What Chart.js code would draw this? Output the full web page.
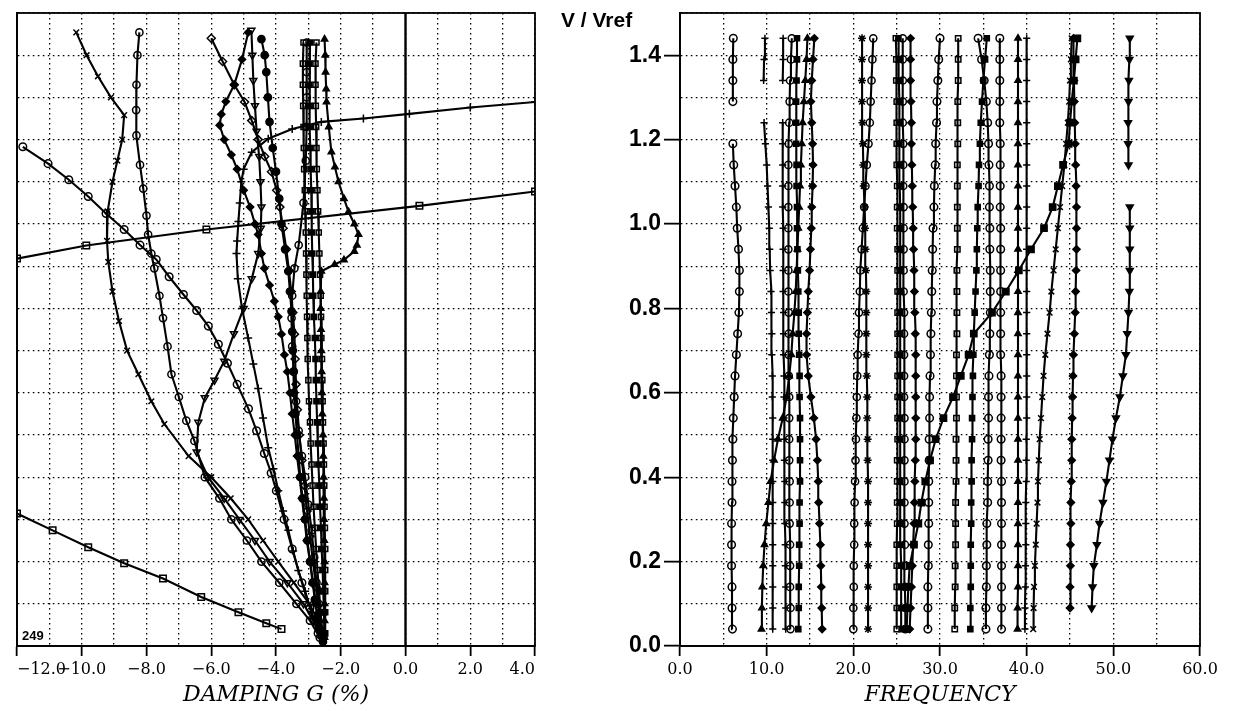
<!DOCTYPE html>
<html>
<head>
<meta charset="utf-8">
<script src="https://cdn.jsdelivr.net/npm/chart.js@4.4.0/dist/chart.umd.min.js"></script>
<style>
  body { margin: 0; background: #fff; width: 1238px; height: 711px; position: relative; overflow: hidden; }
  #damping { position: absolute; left: 0; top: 0; }
  #frequency { position: absolute; left: 560px; top: 0; }
</style>
</head>
<body>
<canvas id="damping" width="560" height="711"></canvas>
<canvas id="frequency" width="678" height="711"></canvas>
<script>
'use strict'

// damping branches, pairs of [g %, V/Vref]
const dampCross = [[-10.17,1.454],[-9.85,1.40],[-9.5,1.35],[-9.1,1.30],[-8.69,1.258],[-8.75,1.20],[-8.9,1.15],[-9.05,1.10],[-9.2,1.03],[-9.22,0.96],[-9.18,0.91],[-9.05,0.84],[-8.85,0.77],[-8.6,0.70],[-8.25,0.644],[-7.85,0.58],[-7.45,0.526],[-6.7,0.45],[-6.0,0.40],[-5.4,0.35],[-4.86,0.30],[-4.4,0.25],[-3.93,0.20],[-3.45,0.15],[-2.97,0.10],[-2.7,0.06],[-2.55,0.02]];
const dampRing = [[-8.22,1.454],[-8.28,1.40],[-8.31,1.33],[-8.32,1.27],[-8.31,1.21],[-8.2,1.14],[-8.1,1.084],[-8.0,1.02],[-7.95,0.975],[-7.85,0.93],[-7.76,0.895],[-7.6,0.83],[-7.49,0.777],[-7.35,0.71],[-7.23,0.644],[-7.0,0.59],[-6.77,0.534],[-6.52,0.486],[-6.2,0.40],[-5.75,0.35],[-5.38,0.30],[-4.9,0.25],[-4.45,0.20],[-3.9,0.15],[-3.37,0.10],[-2.95,0.06],[-2.65,0.02]];
const dampVee = [[-2.6,0.02],[-2.85,0.06],[-3.15,0.10],[-3.65,0.15],[-4.2,0.20],[-4.65,0.25],[-5.13,0.30],[-5.6,0.35],[-6.1,0.40],[-6.45,0.46],[-6.4,0.53],[-6.2,0.588],[-5.9,0.63],[-5.6,0.675],[-5.3,0.74],[-5.0,0.80],[-4.75,0.87],[-4.55,0.93],[-4.47,0.99],[-4.45,1.04],[-4.48,1.10],[-4.52,1.16],[-4.6,1.22],[-4.65,1.28],[-4.7,1.34],[-4.73,1.40],[-4.76,1.459]];
const dampPlus = [[4.0,1.289],[2.0,1.276],[0.12,1.261],[-1.3,1.25],[-2.6,1.242],[-3.5,1.225],[-4.24,1.202],[-4.75,1.17],[-5.0,1.13],[-5.07,1.10],[-5.12,1.05],[-5.16,1.006],[-5.2,0.96],[-5.22,0.93],[-5.18,0.87],[-5.05,0.80],[-4.86,0.73],[-4.7,0.668],[-4.55,0.61],[-4.4,0.54],[-4.24,0.47],[-4.08,0.42],[-3.93,0.368],[-3.78,0.32],[-3.62,0.274],[-3.47,0.225],[-3.31,0.179],[-3.1,0.13],[-2.9,0.078],[-2.6,0.02]];
const dampLong = [[-11.82,1.183],[-11.04,1.143],[-10.4,1.105],[-9.8,1.065],[-9.25,1.025],[-8.69,0.987],[-8.2,0.95],[-7.7,0.916],[-7.3,0.875],[-6.86,0.833],[-6.45,0.795],[-6.09,0.758],[-5.78,0.715],[-5.5,0.67],[-5.2,0.62],[-4.85,0.562],[-4.6,0.51],[-4.36,0.456],[-4.15,0.41],[-3.99,0.368],[-3.75,0.30],[-3.5,0.23],[-3.2,0.15],[-2.95,0.09],[-2.7,0.03]];
const dampFlatHigh = [[-12.0,0.918],[-9.86,0.949],[-6.15,0.987],[0.43,1.043],[4.0,1.077]];
const dampFlatLow = [[-12.0,0.314],[-10.9,0.274],[-9.8,0.234],[-8.69,0.196],[-7.49,0.16],[-6.31,0.116],[-5.16,0.08],[-4.3,0.054],[-3.83,0.04]];
const dampDiamond = [[-6.0,1.44],[-5.65,1.385],[-5.29,1.33],[-4.97,1.289],[-4.75,1.245],[-4.55,1.20],[-4.35,1.16],[-4.14,1.124],[-3.98,1.08],[-3.88,1.04],[-3.78,0.99],[-3.68,0.94],[-3.6,0.89],[-3.53,0.84],[-3.48,0.79],[-3.43,0.739],[-3.41,0.68],[-3.38,0.62],[-3.34,0.56],[-3.28,0.50],[-3.2,0.44],[-3.12,0.38],[-3.04,0.32],[-2.95,0.26],[-2.86,0.20],[-2.76,0.14],[-2.66,0.08],[-2.56,0.02]];
const dampLoop = [[-4.86,1.454],[-5.05,1.39],[-5.29,1.33],[-5.55,1.29],[-5.69,1.26],[-5.74,1.234],[-5.6,1.20],[-5.38,1.164],[-5.2,1.13],[-5.0,1.08],[-4.8,1.04],[-4.65,1.0],[-4.55,0.975],[-4.45,0.93],[-4.36,0.895],[-4.2,0.855],[-4.05,0.817],[-3.93,0.78],[-3.83,0.739],[-3.74,0.69],[-3.65,0.65],[-3.57,0.60],[-3.5,0.55],[-3.42,0.50],[-3.35,0.45],[-3.27,0.40],[-3.2,0.35],[-3.12,0.30],[-3.05,0.25],[-2.95,0.20],[-2.85,0.15],[-2.77,0.10],[-2.7,0.06],[-2.6,0.02]];
const dampDot = [[-4.45,1.438],[-4.35,1.40],[-4.3,1.36],[-4.25,1.30],[-4.2,1.242],[-4.1,1.18],[-4.0,1.124],[-3.9,1.06],[-3.83,1.0],[-3.72,0.94],[-3.62,0.888],[-3.57,0.84],[-3.52,0.793],[-3.5,0.745],[-3.48,0.70],[-3.46,0.65],[-3.45,0.60],[-3.4,0.55],[-3.35,0.50],[-3.3,0.45],[-3.25,0.40],[-3.18,0.35],[-3.1,0.30],[-3.03,0.25],[-2.95,0.20],[-2.87,0.15],[-2.8,0.11],[-2.72,0.07],[-2.65,0.04],[-2.55,0.01]];
const dampBump = [[-2.5,1.438],[-2.48,1.40],[-2.47,1.36],[-2.45,1.32],[-2.44,1.289],[-2.37,1.23],[-2.29,1.171],[-2.18,1.135],[-2.07,1.10],[-1.9,1.06],[-1.76,1.029],[-1.58,1.0],[-1.45,0.975],[-1.5,0.95],[-1.58,0.935],[-1.9,0.915],[-2.19,0.904],[-2.6,0.888],[-2.62,0.84],[-2.62,0.80],[-2.61,0.75],[-2.6,0.70],[-2.59,0.65],[-2.58,0.60],[-2.57,0.55],[-2.55,0.50],[-2.54,0.45],[-2.53,0.40],[-2.52,0.35],[-2.52,0.30],[-2.51,0.25],[-2.5,0.20],[-2.5,0.15],[-2.5,0.10],[-2.5,0.06],[-2.5,0.02]];
const dampBoxA = [[-3.15,1.43],[-3.17,1.38],[-3.17,1.33],[-3.16,1.28],[-3.15,1.23],[-3.14,1.18],[-3.13,1.13],[-3.11,1.08],[-3.1,1.03],[-3.08,0.98],[-3.07,0.93],[-3.06,0.88],[-3.05,0.83],[-3.04,0.78],[-3.03,0.73],[-3.02,0.68],[-3.0,0.63],[-2.98,0.58],[-2.95,0.53],[-2.93,0.48],[-2.9,0.43],[-2.87,0.38],[-2.84,0.33],[-2.8,0.28],[-2.76,0.23],[-2.72,0.18],[-2.67,0.13],[-2.62,0.08],[-2.57,0.03]];
const dampBoxB = [[-2.95,1.43],[-2.97,1.38],[-2.97,1.33],[-2.96,1.28],[-2.95,1.23],[-2.94,1.18],[-2.93,1.13],[-2.91,1.08],[-2.9,1.03],[-2.89,0.98],[-2.88,0.93],[-2.86,0.88],[-2.85,0.83],[-2.83,0.78],[-2.8,0.73],[-2.78,0.68],[-2.77,0.63],[-2.75,0.58],[-2.73,0.53],[-2.71,0.48],[-2.69,0.43],[-2.66,0.38],[-2.64,0.33],[-2.61,0.28],[-2.59,0.23],[-2.56,0.18],[-2.54,0.13],[-2.52,0.08],[-2.5,0.03]];
const dampBoxC = [[-2.75,1.43],[-2.78,1.38],[-2.78,1.33],[-2.77,1.28],[-2.76,1.23],[-2.75,1.18],[-2.74,1.13],[-2.72,1.08],[-2.7,1.03],[-2.68,0.98],[-2.66,0.93],[-2.64,0.88],[-2.62,0.83],[-2.61,0.78],[-2.6,0.73],[-2.58,0.68],[-2.57,0.63],[-2.56,0.58],[-2.55,0.53],[-2.53,0.48],[-2.52,0.43],[-2.51,0.38],[-2.5,0.33],[-2.49,0.28],[-2.48,0.23],[-2.48,0.18],[-2.48,0.13],[-2.48,0.08],[-2.48,0.03]];
const dampBend = [[-3.05,1.43],[-3.05,1.36],[-3.05,1.30],[-3.06,1.23],[-3.08,1.15],[-3.15,1.05],[-3.3,0.95],[-3.43,0.895],[-3.5,0.83],[-3.52,0.777],[-3.5,0.71],[-3.45,0.65],[-3.38,0.58],[-3.3,0.51],[-3.2,0.45],[-3.1,0.40],[-3.0,0.335],[-2.9,0.274],[-2.82,0.21],[-2.75,0.15],[-2.68,0.10],[-2.6,0.05],[-2.55,0.02]];

// V/Vref steps of the frequency branches
const speeds = [0.04,0.09,0.14,0.19,0.24,0.29,0.34,0.39,0.44,0.49,0.54,0.59,0.64,0.69,0.74,0.79,0.84,0.89,0.94,0.99,1.04,1.09,1.14,1.19,1.24,1.29,1.34,1.39,1.44];

// frequency branches, one value per speed (null = no point)
const freqA = [6.05,6.0,6.0,5.95,5.95,5.95,6.0,6.0,6.05,6.1,6.15,6.25,6.35,6.5,6.65,6.8,6.85,6.85,6.75,6.6,6.5,6.35,6.2,6.1,null,6.1,6.1,6.1,6.15];
const freqB = [10.7,10.7,10.7,10.7,10.7,10.7,10.7,10.7,10.7,10.7,10.7,10.65,10.65,10.6,10.6,10.55,10.5,10.4,10.35,10.3,10.2,10.1,10.0,9.85,9.7,null,9.65,9.7,9.8];
const freqC = [9.4,9.45,9.5,9.6,9.75,9.95,10.2,10.45,10.85,11.3,11.85,12.3,12.6,12.85,13.0,13.2,13.35,13.45,13.55,13.65,13.75,13.85,13.95,14.05,14.15,14.3,14.45,14.6,14.7];
const freqD = [16.4,16.35,16.3,16.25,16.2,16.1,16.0,15.95,15.85,15.7,15.45,15.1,14.8,14.6,14.6,14.7,14.8,14.95,15.05,15.15,15.2,15.3,15.35,15.3,15.2,15.1,15.2,15.35,15.5];
const freqE = [12.2,12.2,12.2,12.15,12.15,12.1,12.1,12.1,12.05,12.05,12.0,12.0,12.0,11.95,11.95,11.95,11.9,11.9,11.9,11.9,11.85,11.85,11.85,11.85,11.85,null,11.85,11.9,11.9];
const freqF = [12.75,12.75,12.7,12.7,12.7,12.65,12.65,12.65,12.6,12.6,12.6,12.6,12.55,12.55,12.55,12.55,12.5,12.5,12.5,12.5,12.5,12.5,12.5,12.55,12.6,12.65,12.7,12.8,12.9];
const freqG = [13.65,13.7,13.7,13.75,13.75,13.8,13.8,13.85,13.85,13.85,13.85,13.8,13.8,13.75,13.7,13.7,13.65,13.6,13.55,13.5,13.5,13.45,13.45,13.4,13.4,13.4,13.45,13.5,13.5];
const freqH = [20.0,20.0,20.05,20.05,20.1,20.1,20.15,20.2,20.25,20.3,20.35,20.4,20.45,20.5,20.6,20.65,20.75,20.8,20.95,21.1,21.25,21.4,21.55,21.75,21.9,22.0,22.1,22.2,22.3];
const freqI = [21.7,21.7,21.7,21.7,21.7,21.7,21.7,21.7,21.65,21.65,21.6,21.6,21.55,21.5,21.5,21.5,21.5,21.45,21.4,21.35,21.3,21.2,21.15,21.1,21.05,21.0,21.0,21.0,21.0];
const freqJ = [25.0,25.0,25.0,25.0,25.0,25.05,25.05,25.05,25.05,25.1,25.1,25.1,25.1,25.1,25.1,25.1,25.1,25.1,25.1,25.05,25.05,25.05,25.0,25.0,25.0,25.0,24.95,24.95,24.9];
const freqK = [25.6,25.55,25.5,25.5,25.45,25.45,25.45,25.4,25.4,25.4,25.4,25.4,25.4,25.4,25.4,25.4,25.4,25.4,25.4,25.4,25.4,25.35,25.35,25.3,25.3,25.3,25.25,25.25,25.2];
const freqL = [26.0,26.0,25.95,25.95,25.95,25.9,25.9,25.9,25.9,25.9,25.9,25.85,25.85,25.85,25.85,25.85,25.8,25.8,25.8,25.8,25.8,25.75,25.75,25.75,25.7,25.7,25.7,25.7,25.7];
const freqM = [26.5,26.6,26.7,26.8,26.9,27.0,27.05,27.1,27.15,27.2,27.2,27.2,27.2,27.2,27.15,27.1,27.05,27.0,26.95,26.9,26.85,26.8,26.75,26.7,26.7,26.65,26.6,26.6,26.6];
const freqN = [28.6,28.6,28.6,28.65,28.65,28.7,28.7,28.7,28.75,28.75,28.8,28.8,28.85,28.9,28.95,29.0,29.05,29.1,29.15,29.2,29.3,29.35,29.45,29.5,29.6,29.65,29.75,29.85,30.0];
const freqO = [31.7,31.7,31.75,31.75,31.8,31.8,31.8,31.85,31.85,31.85,31.9,31.9,31.9,31.9,31.95,31.95,31.95,31.95,32.0,32.0,32.0,32.0,32.0,32.05,32.05,32.05,32.1,32.1,32.1];
const freqP = [33.5,33.5,33.55,33.55,33.55,33.6,33.6,33.65,33.65,33.7,33.7,33.75,33.8,33.85,33.9,34.0,34.1,34.2,34.25,34.3,34.35,34.45,34.5,34.6,34.7,34.85,35.0,35.2,35.4];
const freqQ = [35.3,35.3,35.35,35.35,35.4,35.4,35.5,35.5,35.55,35.55,35.6,35.6,35.65,35.7,35.75,35.8,35.8,35.8,35.75,35.75,35.7,35.7,35.65,35.6,35.5,35.35,35.1,34.8,34.4];
const freqR = [37.1,37.1,37.1,37.1,37.1,37.1,37.1,37.1,37.05,37.05,37.05,37.05,37.05,37.0,37.0,37.0,37.0,37.0,37.0,37.0,36.95,36.95,36.95,36.95,36.9,36.9,36.9,36.9,36.9];
const freqS = [38.95,38.95,39.0,39.0,39.0,39.0,39.0,39.0,39.0,39.0,39.0,39.0,39.0,39.0,39.0,39.0,39.0,39.0,39.0,39.0,39.0,39.0,39.0,39.0,39.0,39.0,39.0,39.0,39.0];
const freqT = [39.8,39.8,39.85,39.85,39.9,39.9,39.9,39.95,39.95,39.95,40.0,40.0,40.0,40.0,40.0,40.0,40.0,40.0,40.0,40.0,40.0,40.0,40.0,40.0,40.0,40.0,40.0,40.0,40.0];
const freqU = [40.75,40.8,40.85,40.95,41.05,41.15,41.25,41.3,41.4,41.5,41.65,41.8,41.95,42.15,42.4,42.65,42.85,43.1,43.35,43.6,43.85,44.1,44.35,44.55,44.75,44.9,45.0,45.1,45.2];
const freqV = [26.15,26.25,26.35,26.5,27.0,27.5,27.85,28.3,28.85,29.5,30.4,31.5,32.4,33.3,33.9,36.0,37.6,39.1,40.5,42.0,43.0,43.6,44.2,44.85,45.0,45.2,45.45,45.65,45.85];
const freqW = [null,45.0,45.0,45.05,45.05,45.1,45.1,45.15,45.2,45.2,45.25,45.3,45.35,45.4,45.5,45.6,45.65,45.7,45.75,45.75,45.75,45.7,45.65,45.6,45.55,45.5,45.45,45.4,45.4];
const freqX = [null,47.5,47.6,47.75,48.1,48.4,48.8,49.2,49.55,49.9,50.3,50.75,51.1,51.45,51.6,51.75,51.85,51.9,51.9,51.9,51.9,null,51.75,51.7,51.7,51.75,51.8,51.85,51.9];

const CLEAR = 'rgba(0,0,0,0)';
const MARKS = {
  o: {pointStyle: 'circle', pointBackgroundColor: CLEAR},
  dot: {pointStyle: 'circle', pointBackgroundColor: '#000'},
  sq: {pointStyle: 'rect', pointBackgroundColor: CLEAR},
  blk: {pointStyle: 'rect', pointBackgroundColor: '#000'},
  dia: {pointStyle: 'rectRot', pointBackgroundColor: CLEAR},
  gem: {pointStyle: 'rectRot', pointBackgroundColor: '#000'},
  up: {pointStyle: 'triangle', pointBackgroundColor: '#000'},
  dn: {pointStyle: 'triangle', pointRotation: 180, pointBackgroundColor: CLEAR},
  dnFill: {pointStyle: 'triangle', pointRotation: 180, pointBackgroundColor: '#000'},
  plus: {pointStyle: 'cross'},
  x: {pointStyle: 'crossRot'},
  star: {pointStyle: 'star'}
};

function line(points, mark, size) {
  return Object.assign({
    data: points.map(p => ({x: p[0], y: p[1]})),
    borderColor: '#000',
    borderWidth: 2.1,
    pointBorderColor: '#000',
    pointBorderWidth: 1.5,
    pointRadius: size || 3.6,
    tension: 0
  }, MARKS[mark]);
}

function branch(freqs, mark, size) {
  return line(speeds.map((v, i) => [freqs[i], v]), mark, size);
}

const tickFont = {family: 'DejaVu Serif', size: 16};
const titleFont = {family: 'DejaVu Serif', size: 22, style: 'italic'};
const dots = [1.6, 3.4];

function squeeze(h) {
  return s => { s.height = h; s.paddingLeft = 0; s.paddingRight = 0; };
}
function narrow(w) {
  return s => { s.width = w; s.paddingTop = 0; s.paddingBottom = 0; };
}

const frame = {
  id: 'frame',
  afterDraw(chart) {
    const a = chart.chartArea, c = chart.ctx;
    c.save();
    c.strokeStyle = '#000';
    c.lineWidth = 1.8;
    c.strokeRect(a.left, a.top, a.right - a.left, a.bottom - a.top);
    c.restore();
  }
};

const zeroLine = {
  id: 'zeroLine',
  beforeDatasetsDraw(chart) {
    const a = chart.chartArea, c = chart.ctx;
    const x = chart.scales.x.getPixelForValue(0);
    c.save();
    c.strokeStyle = '#000';
    c.lineWidth = 2.4;
    c.beginPath();
    c.moveTo(x, a.top);
    c.lineTo(x, a.bottom);
    c.stroke();
    c.restore();
  }
};

const runLabel = {
  id: 'runLabel',
  afterDraw(chart) {
    const c = chart.ctx;
    c.save();
    c.fillStyle = '#000';
    c.font = 'bold 13px "Liberation Sans"';
    c.textBaseline = 'alphabetic';
    c.fillText('249', chart.chartArea.left + 5, chart.chartArea.bottom - 6);
    c.restore();
  }
};

const speedLabel = {
  id: 'speedLabel',
  afterDraw(chart) {
    const c = chart.ctx;
    c.save();
    c.fillStyle = '#000';
    c.font = 'bold 21px "Liberation Sans"';
    c.textBaseline = 'alphabetic';
    c.fillText('V / Vref', 1, 27);
    c.restore();
  }
};

new Chart(document.getElementById('damping'), {
  type: 'line',
  data: {
    datasets: [
      line(dampCross, 'x', 4),
      line(dampRing, 'o'),
      line(dampVee, 'dn', 4),
      line(dampPlus, 'plus', 4),
      line(dampLong, 'o', 3.8),
      line(dampFlatHigh, 'sq', 4.6),
      line(dampFlatLow, 'sq', 4.6),
      line(dampDiamond, 'dia', 4),
      line(dampLoop, 'gem'),
      line(dampDot, 'dot'),
      line(dampBump, 'up'),
      line(dampBoxA, 'sq'),
      line(dampBoxB, 'blk'),
      line(dampBoxC, 'sq'),
      line(dampBend, 'o')
    ]
  },
  options: {
    responsive: false,
    animation: false,
    events: [],
    layout: {padding: {left: 17, right: 25, top: 13, bottom: 0}},
    plugins: {legend: {display: false}, tooltip: {enabled: false}},
    scales: {
      x: {
        type: 'linear', min: -12, max: 4,
        afterFit: squeeze(65),
        ticks: {
          stepSize: 1, autoSkip: false, maxRotation: 0, align: 'inner',
          color: '#000', font: tickFont, padding: 4,
          callback: v => Math.round(v) % 2 === 0 ? (v < 0 ? '\u2212' + Math.abs(v).toFixed(1) : v.toFixed(1)) : ''
        },
        grid: {
          color: '#000', lineWidth: 1.3, tickLength: 10, tickWidth: 1.8,
          tickColor: ctx => ctx.tick && Math.round(ctx.tick.value) % 2 ? CLEAR : '#000'
        },
        border: {display: true, color: '#000', width: 1.8, dash: dots},
        title: {display: true, text: 'DAMPING G (%)', color: '#000', font: titleFont, padding: {top: 0, bottom: 3}}
      },
      y: {
        type: 'linear', min: 0, max: 1.5,
        afterFit: narrow(0),
        ticks: {stepSize: 0.1, display: false},
        grid: {color: '#000', lineWidth: 1.3, drawTicks: false},
        border: {display: true, color: '#000', width: 1.8, dash: dots}
      }
    }
  },
  plugins: [zeroLine, frame, runLabel]
});

new Chart(document.getElementById('frequency'), {
  type: 'line',
  data: {
    datasets: [
      branch(freqA, 'o', 3.8),
      branch(freqB, 'plus'),
      branch(freqC, 'up'),
      branch(freqD, 'gem'),
      branch(freqE, 'plus'),
      branch(freqF, 'o'),
      branch(freqG, 'blk'),
      branch(freqH, 'o'),
      branch(freqI, 'star', 4),
      branch(freqJ, 'sq'),
      branch(freqK, 'blk'),
      branch(freqL, 'o'),
      branch(freqM, 'gem'),
      branch(freqN, 'o', 3.8),
      branch(freqO, 'sq', 3.8),
      branch(freqP, 'blk'),
      branch(freqQ, 'o', 3.8),
      branch(freqR, 'o', 3.8),
      branch(freqS, 'up'),
      branch(freqT, 'plus'),
      branch(freqU, 'x', 4),
      branch(freqV, 'blk', 4.4),
      branch(freqW, 'gem'),
      branch(freqX, 'dnFill', 4)
    ]
  },
  options: {
    responsive: false,
    animation: false,
    events: [],
    layout: {padding: {left: 0, right: 38, top: 13, bottom: 0}},
    plugins: {legend: {display: false}, tooltip: {enabled: false}},
    scales: {
      x: {
        type: 'linear', min: 0, max: 60,
        afterFit: squeeze(65),
        ticks: {
          stepSize: 5, autoSkip: false, maxRotation: 0,
          color: '#000', font: tickFont, padding: 4,
          callback: v => v % 10 === 0 ? v.toFixed(1) : ''
        },
        grid: {
          color: '#000', lineWidth: 1.3, tickLength: 10, tickWidth: 1.8,
          tickColor: ctx => ctx.tick && ctx.tick.value % 10 ? CLEAR : '#000'
        },
        border: {display: true, color: '#000', width: 1.8, dash: dots},
        title: {display: true, text: 'FREQUENCY', color: '#000', font: titleFont, padding: {top: 0, bottom: 3}}
      },
      y: {
        type: 'linear', min: 0, max: 1.5,
        afterFit: narrow(120),
        ticks: {
          stepSize: 0.1, autoSkip: false, color: '#000', padding: 3,
          font: {family: 'Liberation Sans', size: 23, weight: 'bold'},
          callback: v => Math.round(v * 10) % 2 === 0 ? v.toFixed(1) : ''
        },
        grid: {
          color: '#000', lineWidth: 1.3, tickLength: 16, tickWidth: 1.8,
          tickColor: ctx => ctx.tick && Math.round(ctx.tick.value * 10) % 2 ? CLEAR : '#000'
        },
        border: {display: true, color: '#000', width: 1.8, dash: dots}
      }
    }
  },
  plugins: [frame, speedLabel]
});
</script>
</body>
</html>
